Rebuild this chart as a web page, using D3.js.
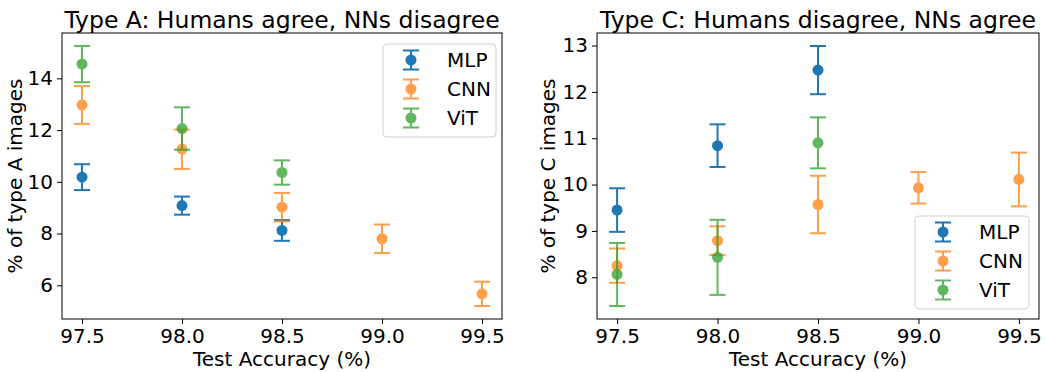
<!DOCTYPE html>
<html>
<head>
<meta charset="utf-8">
<script src="https://cdn.jsdelivr.net/npm/d3@7"></script>
<style>
  body { margin: 0; background: #fff; }
  text { font-family: 'DejaVu Sans', sans-serif; fill: #000; }
  .eje path, .eje line { stroke: #000; stroke-width: 1px; }
</style>
</head>
<body>
<div id="graf"></div>
<script>
// datos
precision = [97.5, 98.0, 98.5, 99.0, 99.5]
modelos = ['MLP', 'CNN', 'ViT']

mlpA = [10.18, 9.08, 8.12]
mlpAErr = [0.50, 0.35, 0.40]
cnnA = [12.97, 11.26, 9.02, 7.80, 5.67]
cnnAErr = [0.73, 0.76, 0.55, 0.55, 0.47]
vitA = [14.55, 12.06, 10.36]
vitAErr = [0.70, 0.82, 0.47]

mlpC = [9.45, 10.84, 12.47]
mlpCErr = [0.47, 0.46, 0.52]
cnnC = [8.25, 8.79, 9.57, 9.93, 10.11]
cnnCErr = [0.37, 0.31, 0.62, 0.34, 0.58]
vitC = [8.06, 8.43, 10.90]
vitCErr = [0.68, 0.81, 0.55]

ticksA = [6, 8, 10, 12, 14]
ticksC = [8, 9, 10, 11, 12, 13]

colores = ['#1f77b4', '#ff7f0e', '#2ca02c']
opacidad = [1, 0.75, 0.75]

// I. Configuración
ancho_total = 1045
alto_total = 372

svg = d3.select('#graf').append('svg')
        .attr('width', ancho_total)
        .attr('height', alto_total)

function serie(vals, errs) {
  return vals.map((v, i) => ({ x: precision[i], y: v, e: errs[i] }))
}

paneles = [
  {
    left: 62, right: 502, titulo: 'Type A: Humans agree, NNs disagree',
    ylabel: '% of type A images', yticks: ticksA, ylx: 22,
    series: [serie(mlpA, mlpAErr), serie(cnnA, cnnAErr), serie(vitA, vitAErr)],
    leyenda: { x: 383, y: 44, w: 113, h: 93 }
  },
  {
    left: 597, right: 1039, titulo: 'Type C: Humans disagree, NNs agree',
    ylabel: '% of type C images', yticks: ticksC, ylx: 555,
    series: [serie(mlpC, mlpCErr), serie(cnnC, cnnCErr), serie(vitC, vitCErr)],
    leyenda: { x: 915, y: 216, w: 114, h: 93 }
  }
]

arriba = 33
abajo = 319

paneles.forEach(p => {
  todos = p.series.flat()
  ymin = d3.min(todos, d => d.y - d.e)
  ymax = d3.max(todos, d => d.y + d.e)
  pad = (ymax - ymin) * 0.05
  xmin = d3.min(precision), xmax = d3.max(precision)
  xpad = (xmax - xmin) * 0.05

  x = d3.scaleLinear().domain([xmin - xpad, xmax + xpad]).range([p.left, p.right])
  y = d3.scaleLinear().domain([ymin - pad, ymax + pad]).range([abajo, arriba])

  g = svg.append('g')

  xAxisCall = d3.axisBottom(x).tickValues(precision).tickFormat(d3.format('.1f'))
                .tickSizeInner(5).tickSizeOuter(0).tickPadding(4)
  xg = g.append('g').attr('class', 'eje')
        .attr('transform', `translate(0, ${abajo})`)
        .call(xAxisCall)
  xg.select('.domain').remove()
  xg.selectAll('text').style('font-size', '20px').attr('dy', '0.75em')

  yAxisCall = d3.axisLeft(y).tickValues(p.yticks).tickFormat(d3.format('d'))
                .tickSizeInner(5).tickSizeOuter(0).tickPadding(4)
  yg = g.append('g').attr('class', 'eje')
        .attr('transform', `translate(${p.left}, 0)`)
        .call(yAxisCall)
  yg.select('.domain').remove()
  yg.selectAll('text').style('font-size', '20px')

  // marco
  g.append('rect')
    .attr('x', p.left).attr('y', arriba)
    .attr('width', p.right - p.left).attr('height', abajo - arriba)
    .attr('fill', 'none').attr('stroke', '#000').attr('stroke-width', 1)

  p.series.forEach((s, k) => {
    sg = g.append('g')
    s.forEach(d => {
      pt = sg.append('g').style('opacity', opacidad[k])
      pt.append('line')
        .attr('x1', x(d.x)).attr('x2', x(d.x))
        .attr('y1', y(d.y - d.e)).attr('y2', y(d.y + d.e))
        .attr('stroke', colores[k]).attr('stroke-width', 2)
      ;[d.y - d.e, d.y + d.e].forEach(v => {
        pt.append('line')
          .attr('x1', x(d.x) - 8).attr('x2', x(d.x) + 8)
          .attr('y1', y(v)).attr('y2', y(v))
          .attr('stroke', colores[k]).attr('stroke-width', 2)
      })
      pt.append('circle')
        .attr('cx', x(d.x)).attr('cy', y(d.y)).attr('r', 5.5)
        .attr('fill', colores[k])
    })
  })

  g.append('text')
    .attr('x', (p.left + p.right) / 2).attr('y', 27.5)
    .attr('text-anchor', 'middle')
    .style('font-size', '23.5px')
    .text(p.titulo)

  g.append('text')
    .attr('x', (p.left + p.right) / 2).attr('y', 366)
    .attr('text-anchor', 'middle')
    .style('font-size', '20px')
    .text('Test Accuracy (%)')

  g.append('text')
    .attr('transform', `translate(${p.ylx}, ${(arriba + abajo) / 2}) rotate(-90)`)
    .attr('text-anchor', 'middle')
    .style('font-size', '20px')
    .text(p.ylabel)

  // leyenda
  L = p.leyenda
  lg = g.append('g')
  lg.append('rect')
    .attr('x', L.x).attr('y', L.y).attr('width', L.w).attr('height', L.h)
    .attr('rx', 4)
    .attr('fill', 'rgba(255,255,255,0.8)').attr('stroke', '#d0d0d0')
  modelos.forEach((m, k) => {
    cy = L.y + 16 + k * 29
    cx = L.x + 28
    it = lg.append('g').style('opacity', opacidad[k])
    it.append('line').attr('x1', cx).attr('x2', cx).attr('y1', cy - 9.5).attr('y2', cy + 9.5)
      .attr('stroke', colores[k]).attr('stroke-width', 2)
    ;[-9.5, 9.5].forEach(o => {
      it.append('line').attr('x1', cx - 8).attr('x2', cx + 8).attr('y1', cy + o).attr('y2', cy + o)
        .attr('stroke', colores[k]).attr('stroke-width', 2)
    })
    it.append('circle').attr('cx', cx).attr('cy', cy).attr('r', 5.5).attr('fill', colores[k])
    lg.append('text')
      .attr('x', L.x + 64).attr('y', cy).attr('dy', '0.35em')
      .style('font-size', '20px')
      .text(m)
  })
})
</script>
</body>
</html>
